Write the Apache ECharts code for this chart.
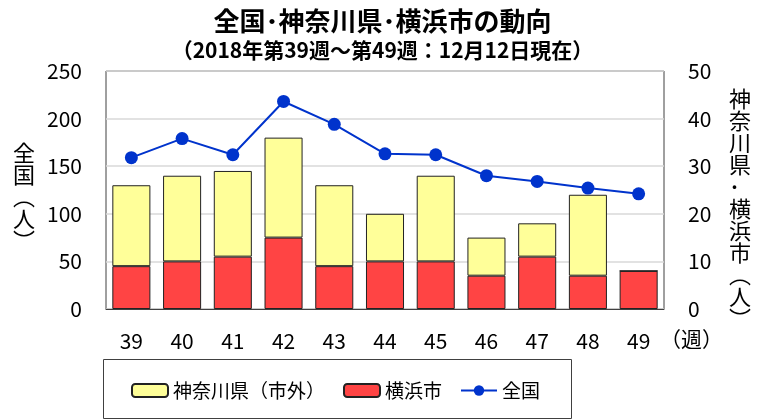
<!DOCTYPE html>
<html>
<head>
<meta charset="utf-8">
<script src="https://cdn.jsdelivr.net/npm/echarts@6/dist/echarts.min.js"></script>
<style>
  html, body { margin: 0; padding: 0; background: #fff; }
  #chart { width: 765px; height: 419px; }
</style>
</head>
<body>
<div id="chart"></div>
<script>
// 週番号
const weeks = ['39', '40', '41', '42', '43', '44', '45', '46', '47', '48', '49']
// 横浜市（右軸）
const yokohama = [9, 10, 11, 15, 9, 10, 10, 7, 11, 7, 8]
// 神奈川県（市外）（右軸）
const kanagawaOther = [17, 18, 18, 21, 17, 10, 18, 8, 7, 17, 0]
// 全国（左軸）
const national = [159, 179, 162, 218, 194, 163, 162, 140, 134, 127, 121]

const font = '"Noto Sans CJK JP", "Noto Sans", sans-serif'

const chart = echarts.init(document.getElementById('chart'))

const option = {
  animation: false,
  textStyle: { fontFamily: font },
  title: {
    text: '全国･神奈川県･横浜市の動向',
    subtext: '（2018年第39週～第49週：12月12日現在）',
    left: 'center',
    top: 3,
    itemGap: 6,
    textStyle: { fontSize: 26, fontWeight: 'bold', color: '#000', fontFamily: font },
    subtextStyle: { fontSize: 21, fontWeight: 'bold', color: '#000', fontFamily: font }
  },
  grid: {
    left: 106,
    right: 101,
    top: 71,
    bottom: 110,
    show: true,
    borderColor: '#404040',
    borderWidth: 1
  },
  legend: {
    data: ['神奈川県（市外）', '横浜市', '全国'],
    left: 126,
    top: 376,
    itemWidth: 36,
    itemHeight: 13,
    itemGap: 18,
    textStyle: { fontSize: 19, color: '#000', fontFamily: font }
  },
  xAxis: {
    type: 'category',
    data: weeks,
    axisTick: { show: false },
    axisLine: { lineStyle: { color: '#404040' } },
    axisLabel: { fontSize: 21, color: '#000', margin: 22 }
  },
  yAxis: [
    {
      type: 'value',
      min: 0,
      max: 250,
      interval: 50,
      axisLine: { show: false },
      axisTick: { show: false },
      axisLabel: { fontSize: 21, color: '#000', margin: 24 },
      splitLine: { lineStyle: { color: '#d9d9d9', width: 1.5 } }
    },
    {
      type: 'value',
      min: 0,
      max: 50,
      interval: 10,
      axisLine: { show: false },
      axisTick: { show: false },
      axisLabel: { fontSize: 21, color: '#000', margin: 24 },
      splitLine: { show: false }
    }
  ],
  graphic: [
    {
      type: 'text',
      left: 13,
      top: 142,
      style: {
        text: '全\n国\n︵\n人\n︶',
        font: '22px ' + font,
        fill: '#000',
        lineHeight: 22,
        align: 'center'
      }
    },
    {
      type: 'text',
      left: 729,
      top: 88,
      style: {
        text: '神\n奈\n川\n県\n･\n横\n浜\n市\n︵\n人\n︶',
        font: '22px ' + font,
        fill: '#000',
        lineHeight: 22,
        align: 'center'
      }
    },
    {
      type: 'text',
      left: 660,
      top: 329,
      style: {
        text: '（週）',
        font: '21px ' + font,
        fill: '#000'
      }
    },
    {
      type: 'rect',
      left: 101,
      top: 357,
      shape: { width: 468, height: 59 },
      style: { fill: 'none', stroke: '#404040', lineWidth: 1 }
    }
  ],
  series: [
    {
      name: '横浜市',
      type: 'bar',
      stack: 'pref',
      yAxisIndex: 1,
      data: yokohama,
      barWidth: '75%',
      itemStyle: { color: '#ff4444', borderColor: '#222', borderWidth: 1 }
    },
    {
      name: '神奈川県（市外）',
      type: 'bar',
      stack: 'pref',
      yAxisIndex: 1,
      data: kanagawaOther,
      barWidth: '75%',
      itemStyle: { color: '#ffff99', borderColor: '#222', borderWidth: 1 }
    },
    {
      name: '全国',
      type: 'line',
      yAxisIndex: 0,
      data: national,
      z: 5,
      symbol: 'circle',
      symbolSize: 13,
      lineStyle: { color: '#0033cc', width: 2 },
      itemStyle: { color: '#0033cc' }
    }
  ]
}

chart.setOption(option)
</script>
</body>
</html>
